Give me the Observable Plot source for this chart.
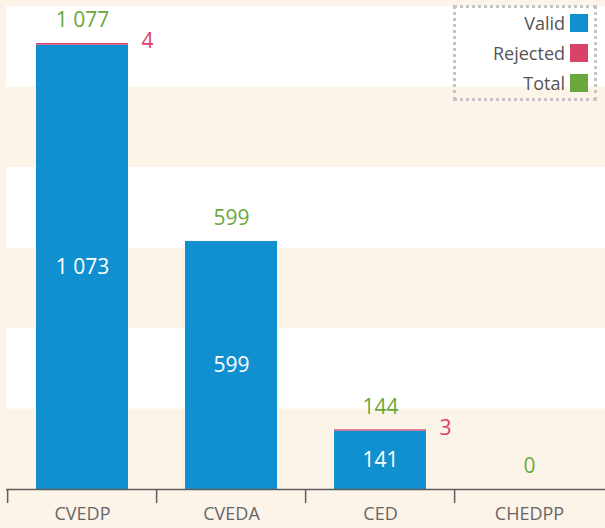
<!DOCTYPE html>
<html>
<head>
<meta charset="utf-8">
<script src="https://cdn.jsdelivr.net/npm/d3@7"></script>
<script src="https://cdn.jsdelivr.net/npm/@observablehq/plot@0.6"></script>
<style>
  html, body { margin: 0; padding: 0; background: #fdf4e9; }
  #wrap { position: relative; width: 605px; height: 528px; font-family: "Open Sans", sans-serif; }
  #legend { position: absolute; left: 453px; top: 5px; width: 144px; height: 96px;
    border: 3px dotted #c4c4c4; box-sizing: border-box; }
  .item { position: absolute; right: 6px; height: 18px; display: flex; align-items: center; gap: 5px;
    font-size: 18px; color: #555; }
  .sw { width: 18px; height: 18px; display: inline-block; }
</style>
</head>
<body>
<div id="wrap"><div id="legend"></div></div>
<script>
const categories = ["CVEDP", "CVEDA", "CED", "CHEDPP"];
const valid = [1073, 599, 141, 0];
const rejected = [4, 0, 3, 0];
const total = [1077, 599, 144, 0];
const seriesNames = ["Valid", "Rejected", "Total"];
const seriesColors = ["#1190d0", "#d9436a", "#6aa83c"];
const bandEdges = [0, 194.4, 388.8, 583.2, 777.6, 972, 1166.4];

const W = 605, H = 528, mL = 6, mR = 0, mT = 6, mB = 39;
const step = (W - mL - mR) / categories.length;
const fmt = d3.formatLocale({decimal: ".", thousands: " ", grouping: [3], currency: ["", ""]}).format(",d");

const rows = categories.flatMap((c, i) => [
  {cat: c, series: "Valid", value: valid[i]},
  {cat: c, series: "Rejected", value: rejected[i]}
]);
const whiteBands = [1, 3, 5].map(i => ({y1: bandEdges[i], y2: bandEdges[i + 1]}));
const tot = categories.map((c, i) => ({cat: c, total: total[i], valid: valid[i], rejected: rejected[i]}));

const plot = Plot.plot({
  width: W, height: H,
  marginLeft: mL, marginRight: mR, marginTop: mT, marginBottom: mB,
  style: {background: "transparent", fontFamily: "Open Sans, sans-serif"},
  x: {type: "band", domain: categories, paddingInner: 0.38, paddingOuter: 0.19, label: null},
  y: {domain: [0, bandEdges[bandEdges.length - 1]], axis: null},
  color: {domain: seriesNames, range: seriesColors},
  marks: [
    Plot.rectY(whiteBands, {y1: "y1", y2: "y2", fill: "#ffffff"}),
    Plot.barY(rows, Plot.stackY({x: "cat", y: "value", fill: "series", order: seriesNames})),
    Plot.ruleY([0], {stroke: "#5e5e5e", strokeWidth: 1.5}),
    Plot.axisX({tickSize: 14, tickFormat: () => "", dx: -step / 2, stroke: "#5e5e5e", strokeWidth: 1.5}),
    Plot.axisX({tickSize: 0, tickPadding: 18, fontSize: 18, fill: "#666", label: null}),
    Plot.text(tot, {x: "cat", y: "total", text: d => fmt(d.total), dy: -23, fill: seriesColors[2], fontSize: 21}),
    Plot.text(tot.filter(d => d.valid > 0), {x: "cat", y: d => d.valid / 2, text: d => fmt(d.valid), fill: "#ffffff", fontSize: 21}),
    Plot.text(tot.filter(d => d.rejected > 0), {x: "cat", y: "total", text: d => fmt(d.rejected), dx: 59, dy: -2, textAnchor: "start", fill: seriesColors[1], fontSize: 21})
  ]
});
document.getElementById("wrap").prepend(plot);

const legend = document.getElementById("legend");
seriesNames.forEach((s, i) => {
  const it = document.createElement("div");
  it.className = "item";
  it.style.top = (6 + i * 30) + "px";
  it.innerHTML = `<span>${s}</span><span class="sw" style="background:${seriesColors[i]}"></span>`;
  legend.appendChild(it);
});
</script>
</body>
</html>
